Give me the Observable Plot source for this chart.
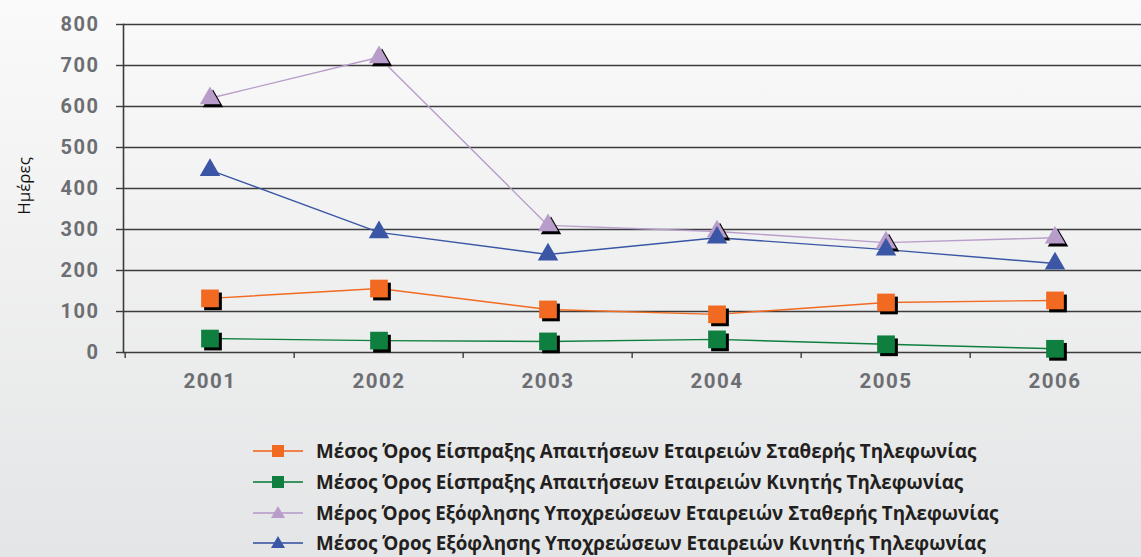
<!DOCTYPE html>
<html>
<head>
<meta charset="utf-8">
<script src="https://cdn.jsdelivr.net/npm/d3@7"></script>
<script src="https://cdn.jsdelivr.net/npm/@observablehq/plot@0.6"></script>
<style>
html,body{margin:0;padding:0;}
body{width:1141px;height:557px;overflow:hidden;background:linear-gradient(#fafafa,#e4e5e6);position:relative;font-family:"Open Sans",sans-serif;}
#ylabel{position:absolute;left:23px;top:186px;transform:translate(-50%,-50%) rotate(-90deg);font-family:"Open Sans";font-size:17px;color:#111;white-space:nowrap;}
#legend{position:absolute;left:253px;top:436px;}
.row{height:30.7px;display:flex;align-items:center;}
.row svg{margin-right:13px;}
.row span{font-weight:700;font-size:18.8px;color:#231f20;white-space:nowrap;}
g[aria-label="y-axis tick label"] text, g[aria-label="text"] text{letter-spacing:1.5px;}
</style>
</head>
<body>
<div id="chart"></div>
<div id="ylabel">Ημέρες</div>
<div id="legend"></div>
<script>
const years = ["2001","2002","2003","2004","2005","2006"];
const yTicks = [0,100,200,300,400,500,600,700,800];
const seriesNames = [
  "Μέσος Όρος Είσπραξης Απαιτήσεων Εταιρειών Σταθερής Τηλεφωνίας",
  "Μέσος Όρος Είσπραξης Απαιτήσεων Εταιρειών Κινητής Τηλεφωνίας",
  "Μέρος Όρος Εξόφλησης Υποχρεώσεων Εταιρειών Σταθερής Τηλεφωνίας",
  "Μέσος Όρος Εξόφλησης Υποχρεώσεων Εταιρειών Κινητής Τηλεφωνίας"
];
const fixedReceivables = [132, 156, 105, 93, 122, 127];
const mobileReceivables = [34, 29, 27, 32, 20, 9];
const fixedPayables = [620, 720, 310, 295, 268, 280];
const mobilePayables = [445, 293, 239, 280, 251, 217];
const colors = ["#f26a21", "#0f7f3f", "#b89cc9", "#3a56a5"];
const symbols = ["square", "square", "triangle", "triangle"];
const shadows = [true, true, true, false];

const allValues = [fixedReceivables, mobileReceivables, fixedPayables, mobilePayables];
const data = [];
allValues.forEach((vals, s) => vals.forEach((v, i) => data.push({series: s, year: years[i], value: v})));

const W = 1141, ML = 123, MR = 0;
const bw = (W - ML - MR) / years.length;

const plot = Plot.plot({
  width: W, height: 420,
  marginLeft: ML, marginRight: MR, marginTop: 24, marginBottom: 68,
  style: {background: "transparent", fontFamily: "Roboto", overflow: "visible"},
  x: {type: "band", domain: years, padding: 0, axis: null},
  y: {domain: [0, 800], axis: null},
  marks: [
    Plot.ruleY(yTicks, {stroke: "#3c3c3c", strokeWidth: 1.4}),
    Plot.frame({anchor: "left", stroke: "#3c3c3c", strokeWidth: 1.6}),
    Plot.axisY(yTicks, {tickSize: 7, tickPadding: 17, stroke: "#3c3c3c", strokeWidth: 1.4, fill: "#6d6e71", fontSize: 20, fontWeight: 700, label: null}),
    Plot.ruleX(years, {x: d => d, dx: -bw / 2, y1: 0, y2: 0, insetBottom: -6, stroke: "#3c3c3c", strokeWidth: 1.4}),
    Plot.text(years, {x: d => d, y: 0, dy: 29, text: d => d, fill: "#6d6e71", fontSize: 20.5, fontWeight: 700}),
    ...allValues.map((_, s) => Plot.line(data.filter(d => d.series === s), {x: "year", y: "value", stroke: colors[s], strokeWidth: 1.4})),
    ...allValues.map((_, s) => shadows[s] ? Plot.dot(data.filter(d => d.series === s), {x: "year", y: "value", symbol: symbols[s], r: symbols[s] === "square" ? 10 : 7.6, fill: "black", dx: 3, dy: 3}) : null).filter(Boolean),
    ...allValues.map((_, s) => Plot.dot(data.filter(d => d.series === s), {x: "year", y: "value", symbol: symbols[s], r: symbols[s] === "square" ? 10 : 7.6, fill: colors[s]}))
  ]
});
document.getElementById("chart").appendChild(plot);

const legend = document.getElementById("legend");
seriesNames.forEach((name, s) => {
  const row = document.createElement("div");
  row.className = "row";
  const mk = symbols[s] === "square"
    ? `<rect x="19" y="5" width="12" height="12" fill="${colors[s]}"/>`
    : `<path d="M25,4 L32,16 L18,16 Z" fill="${colors[s]}"/>`;
  row.innerHTML = `<svg width="50" height="22"><line x1="0" x2="50" y1="11" y2="11" stroke="${colors[s]}" stroke-width="2" opacity="0.8"/>${mk}</svg><span>${name}</span>`;
  legend.appendChild(row);
});
</script>
</body>
</html>
